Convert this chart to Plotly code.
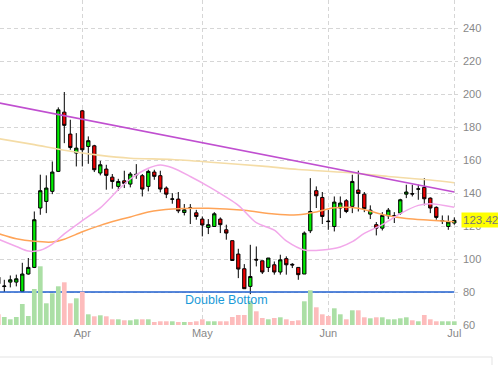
import plotly.graph_objects as go

# ---------------- data ----------------
idx = list(range(-1, 76))  # trading-day index
opens = [89.0, 83.3, 86.0, 86.0, 80.4, 90.9, 94.9, 130.9, 134.9, 141.0,
         153.1, 189.0, 175.7, 164.2, 189.8, 168.2, 168.6, 152.1, 154.5, 149.6,
         144.0, 147.4, 145.4, 151.0, 150.5, 144.0, 152.7, 150.5, 143.0, 136.2,
         136.3, 128.2, 131.0, 128.0, 124.2, 119.1, 119.7, 124.2, 117.7, 111.1,
         103.0, 94.1, 83.4, 99.8, 98.9, 94.9, 96.5, 92.1, 100.2, 96.8,
         94.9, 90.9, 117.1, 141.4, 137.3, 123.0, 119.7, 130.9, 135.3, 131.9,
         141.8, 139.3, 127.2, 120.8, 118.7, 126.2, 126.1, 127.8, 139.3, 139.6,
         142.3, 143.4, 136.9, 131.3, 123.1, 119.7, 121.8]
highs = [93.5, 87.4, 90.0, 90.5, 97.7, 100.6, 128.8, 151.1, 150.7, 159.1,
         191.9, 201.2, 184.4, 176.3, 190.4, 174.3, 169.2, 159.5, 157.1, 151.5,
         148.6, 153.5, 152.7, 157.5, 151.5, 154.1, 154.1, 153.5, 144.0, 139.9,
         140.6, 133.3, 133.3, 129.8, 125.8, 124.2, 128.4, 125.2, 120.8, 111.1,
         106.2, 96.9, 108.6, 107.6, 98.9, 100.6, 98.5, 102.6, 101.6, 97.5,
         94.9, 116.7, 149.0, 144.0, 140.6, 129.8, 137.9, 137.9, 136.3, 151.1,
         153.5, 140.6, 132.5, 122.4, 128.4, 130.9, 128.4, 136.5, 145.0, 145.0,
         145.0, 149.0, 137.3, 131.9, 126.4, 126.4, 125.2]
lows = [80.5, 80.0, 82.8, 83.4, 80.4, 90.5, 94.5, 126.8, 127.8, 139.3,
        152.7, 170.2, 166.2, 156.1, 156.1, 157.7, 152.7, 150.7, 142.0, 142.6,
        141.4, 143.0, 143.4, 148.6, 137.9, 141.0, 148.0, 140.4, 136.9, 133.5,
        127.8, 126.4, 121.2, 123.8, 113.7, 115.1, 119.7, 115.7, 111.7, 99.1,
        88.4, 82.0, 78.7, 95.5, 90.9, 92.1, 90.5, 90.5, 90.5, 94.5,
        87.4, 90.9, 115.7, 130.9, 121.2, 117.7, 116.7, 124.8, 127.8, 127.8,
        128.8, 128.4, 124.2, 114.3, 117.3, 124.2, 121.8, 126.8, 136.9, 137.9,
        135.9, 132.5, 127.8, 123.8, 121.2, 117.7, 120.8]
closes = [85.0, 83.6, 87.4, 88.0, 90.9, 94.9, 123.8, 141.4, 143.0, 152.7,
          190.4, 181.0, 167.6, 167.2, 166.2, 171.7, 154.1, 157.1, 150.7, 147.0,
          147.0, 145.8, 151.5, 151.3, 142.4, 153.1, 150.1, 142.4, 139.3, 136.4,
          129.2, 129.8, 130.8, 125.8, 120.6, 120.8, 127.4, 120.8, 115.7, 99.1,
          93.9, 82.0, 89.4, 99.4, 92.1, 100.6, 92.1, 99.5, 96.5, 96.4,
          90.5, 115.7, 128.8, 138.3, 125.8, 122.7, 134.5, 133.9, 128.8, 147.0,
          139.7, 130.5, 129.6, 118.7, 126.4, 129.6, 126.3, 135.9, 140.6, 139.4,
          142.5, 136.5, 130.9, 125.2, 123.3, 122.4, 123.42]
volumes = [10.7, 8.0, 5.7, 8.0, 21.0, 9.0, 36.0, 58.7, 21.7, 31.7,
           38.7, 42.7, 21.7, 26.7, 33.3, 10.7, 8.7, 9.7, 8.7, 5.7,
           5.7, 4.7, 4.7, 5.7, 5.7, 5.7, 3.0, 3.7, 3.7, 3.7,
           3.0, 3.0, 3.0, 3.7, 5.7, 3.7, 3.7, 3.7, 3.7, 8.0,
           10.0, 10.0, 24.0, 13.7, 7.0, 5.7, 7.0, 7.7, 5.7, 4.0,
           4.7, 23.7, 34.7, 17.7, 10.7, 9.0, 16.7, 10.7, 5.7, 14.7,
           14.7, 7.7, 6.7, 7.7, 7.7, 5.7, 5.7, 6.7, 7.7, 4.7,
           3.7, 10.0, 5.7, 3.7, 3.7, 3.7, 3.7]

ma_long_x = [-1, 5, 10, 16, 21, 28, 35, 43, 49, 57, 64, 71, 75]
ma_long_y = [173.0, 169.3, 165.9, 162.8, 161.1, 160.3, 158.5, 156.3, 154.2, 152.4, 150.0, 147.9, 146.2]

ma_mid_x = [-1, 2, 5, 8, 10, 13, 16, 19, 21, 24, 28, 34, 40, 45, 49, 52, 55, 59, 63, 67, 71, 75]
ma_mid_y = [115.4, 112.3, 110.7, 110.3, 112.0, 116.5, 120.4, 123.6, 125.5, 128.5, 130.3, 130.7,
            129.5, 127.3, 126.8, 128.5, 131.0, 130.8, 127.0, 124.5, 123.5, 122.5]

ma_short_x = [-1, 2, 4, 6, 8, 10, 13, 16, 19, 21, 24, 26, 28, 31, 34, 39, 42, 45, 47, 50,
              53, 56, 58, 60, 63, 66, 69, 71, 75]
ma_short_y = [112.0, 107.6, 104.8, 105.3, 109.0, 115.2, 123.2, 131.0, 142.0, 148.5, 155.0, 157.0,
              155.3, 150.0, 144.0, 132.5, 122.0, 117.5, 111.0, 105.5, 105.5, 107.3, 110.5, 115.5,
              120.8, 127.5, 132.5, 133.5, 131.4]

trend_x = [-1, 75]
trend_y = [194.7, 140.6]

support_x = [-1, 75]
support_y = [80, 80]
support_label = "Double Bottom"

month_pos = [13, 33, 54, 75]
month_labels = ["Apr", "May", "Jun", "Jul"]
price_ticks = [60, 80, 100, 120, 140, 160, 180, 200, 220, 240]

# ---------------- figure ----------------
vol_colors = ["#abdfa5" if c >= o else "#fdbcbc" for o, c in zip(opens, closes)]

fig = go.Figure()
fig.add_trace(go.Bar(x=idx, y=volumes, marker=dict(color=vol_colors, line=dict(width=0)),
                     width=0.78, yaxis="y2", hoverinfo="skip", showlegend=False))
fig.add_trace(go.Scatter(x=ma_long_x, y=ma_long_y, mode="lines",
                         line=dict(color="#f4dca6", width=1.6, shape="spline", smoothing=0.8),
                         hoverinfo="skip", showlegend=False))
fig.add_trace(go.Scatter(x=ma_mid_x, y=ma_mid_y, mode="lines",
                         line=dict(color="#ffa458", width=1.5, shape="spline", smoothing=0.8),
                         hoverinfo="skip", showlegend=False))
fig.add_trace(go.Scatter(x=ma_short_x, y=ma_short_y, mode="lines",
                         line=dict(color="#f2a8ea", width=1.5, shape="spline", smoothing=0.8),
                         hoverinfo="skip", showlegend=False))
fig.add_trace(go.Scatter(x=trend_x, y=trend_y, mode="lines",
                         line=dict(color="#c04fd0", width=1.6),
                         hoverinfo="skip", showlegend=False))
fig.add_trace(go.Candlestick(x=idx, open=opens, high=highs, low=lows, close=closes,
                             increasing=dict(fillcolor="#00ee00", line=dict(color="black", width=1)),
                             decreasing=dict(fillcolor="#ee0000", line=dict(color="black", width=1)),
                             whiskerwidth=0, hoverinfo="skip", showlegend=False))
fig.add_trace(go.Scatter(x=support_x, y=support_y, mode="lines",
                         line=dict(color="#1f5fcf", width=1.5),
                         hoverinfo="skip", showlegend=False, yaxis="y"))

fig.add_annotation(x=(support_x[0] + support_x[1]) / 2, y=support_y[0], text=support_label,
                   showarrow=False, yanchor="top", yshift=1,
                   font=dict(size=12.5, color="#1b9ad8"))
fig.add_annotation(xref="paper", x=1, y=closes[-1], text=f"{closes[-1]:.2f}",
                   showarrow=False, xanchor="left", xshift=3, bgcolor="#ffff00",
                   borderpad=1, font=dict(size=11.5, color="#777777"))

# bottom navigator frame
fig.add_shape(type="rect", xref="paper", yref="paper", x0=-0.01, x1=492 / 458,
              y0=-32 / 325, y1=-0.3, line=dict(color="#e3e3e3", width=1))

grid = dict(gridcolor="#d6d6d6", griddash="4px,3px", gridwidth=1)
fig.update_layout(
    width=498, height=365,
    margin=dict(l=0, r=40, t=0, b=40),
    paper_bgcolor="white", plot_bgcolor="white",
    font=dict(family="Liberation Sans, Arial, sans-serif", size=11, color="#888888"),
    boxgap=0.22,
    showlegend=False,
    xaxis=dict(range=[-0.717, 75.617], tickvals=month_pos, ticktext=month_labels,
               showgrid=True, zeroline=False, showline=False, ticks="",
               rangeslider=dict(visible=False), fixedrange=True, **grid),
    yaxis=dict(range=[60, 60 + 325 / 1.65], side="right", tickvals=price_ticks,
               showgrid=True, zeroline=False, showline=False, ticks="",
               ticklabelstandoff=4, fixedrange=True, **grid),
    yaxis2=dict(range=[0, max(volumes) * 325 / 58.7], overlaying="y", visible=False,
                fixedrange=True),
)

fig.write_html("out.html", config={"displayModeBar": False, "staticPlot": True},
               post_script="document.body.style.margin='0';document.body.style.overflow='hidden';")
